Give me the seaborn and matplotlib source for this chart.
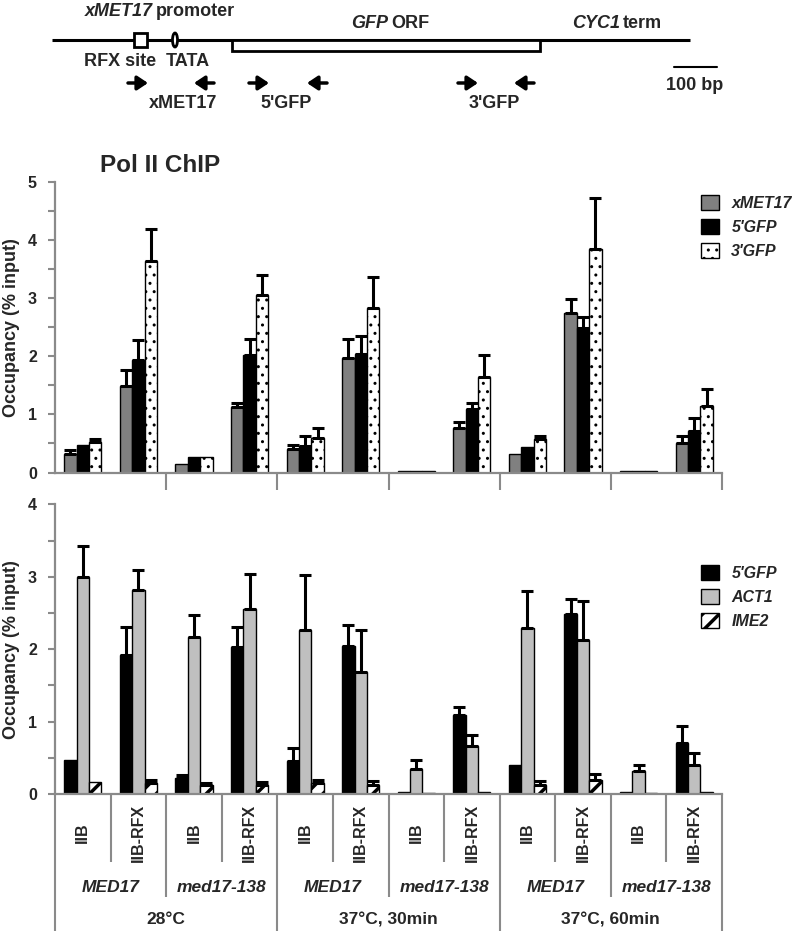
import matplotlib
matplotlib.use('Agg')
import matplotlib.pyplot as plt
from matplotlib.patches import Rectangle, Ellipse
import numpy as np
import pandas as pd
import seaborn as sns

conditions = ['28°C', '37°C, 30min', '37°C, 60min']
strains = ['MED17', 'med17-138']
constructs = ['IIB', 'IIB-RFX']

# Pol II ChIP (% input), samples ordered condition > strain > construct
pol2_targets = ['xMET17', "5'GFP", "3'GFP"]
pol2_xmet17 = [0.32, 1.48, 0.15, 1.13, 0.40, 1.97, 0.02, 0.76, 0.31, 2.75, 0.02, 0.51]
pol2_xmet17_err = [0.06, 0.29, 0, 0.07, 0.08, 0.33, 0, 0.10, 0, 0.23, 0, 0.12]
pol2_5gfp = [0.47, 1.93, 0.27, 2.02, 0.46, 2.03, 0.02, 1.09, 0.43, 2.48, 0.02, 0.71]
pol2_5gfp_err = [0, 0.35, 0, 0.27, 0.17, 0.31, 0, 0.11, 0, 0.19, 0, 0.23]
pol2_3gfp = [0.52, 3.63, 0.26, 3.05, 0.60, 2.83, 0.02, 1.65, 0.57, 3.84, 0.02, 1.14]
pol2_3gfp_err = [0.05, 0.56, 0, 0.34, 0.17, 0.54, 0, 0.37, 0.05, 0.88, 0, 0.29]

# lower panel
low_targets = ["5'GFP", 'ACT1', 'IME2']
low_5gfp = [0.47, 1.92, 0.22, 2.03, 0.46, 2.04, 0.03, 1.09, 0.40, 2.49, 0.03, 0.71]
low_5gfp_err = [0, 0.38, 0.04, 0.28, 0.17, 0.30, 0, 0.11, 0, 0.20, 0, 0.23]
low_act1 = [3.00, 2.81, 2.17, 2.56, 2.27, 1.69, 0.35, 0.66, 2.29, 2.12, 0.32, 0.40]
low_act1_err = [0.42, 0.28, 0.30, 0.48, 0.76, 0.58, 0.12, 0.16, 0.51, 0.55, 0.08, 0.17]
low_ime2 = [0.17, 0.15, 0.12, 0.13, 0.15, 0.13, 0.02, 0.03, 0.13, 0.19, 0.02, 0.03]
low_ime2_err = [0, 0.04, 0.03, 0.04, 0.04, 0.05, 0, 0, 0.05, 0.08, 0, 0]

samples = [f'{c}|{s}|{k}' for c in conditions for s in strains for k in constructs]

sns.set_style('ticks')
plt.rcParams['font.family'] = ['Liberation Sans', 'DejaVu Sans']
plt.rcParams['font.weight'] = 'bold'
GREY = '#8a8a8a'

W, H = 794, 931
fig = plt.figure(figsize=(W / 100, H / 100), dpi=100)


def px_axes(x0, y0, x1, y1):
    # axes rectangle from pixel box (top-left origin)
    return fig.add_axes([x0 / W, 1 - y1 / H, (x1 - x0) / W, (y1 - y0) / H])


def add_errs(ax, errs):
    for cont, err in zip(ax.containers, errs):
        err = np.array(err)
        xs = np.array([p.get_x() + p.get_width() / 2 for p in cont])
        ys = np.array([p.get_height() for p in cont])
        m = err > 0
        ax.errorbar(xs[m], ys[m], yerr=[np.zeros(m.sum()), err[m]], fmt='none',
                    ecolor='black', elinewidth=2.2, capsize=4, capthick=2.2, zorder=4)


def style_axes(ax, ymax):
    sns.despine(ax=ax)
    for s in ['left', 'bottom']:
        ax.spines[s].set_color(GREY)
        ax.spines[s].set_linewidth(1.6)
    ax.set_ylim(0, ymax)
    ax.set_xlim(-0.5, 11.5)
    ax.set_yticks(np.arange(0, ymax + 0.1, 1))
    ax.set_yticks(np.arange(0.5, ymax, 1), minor=True)
    ax.tick_params(axis='y', which='both', direction='out', length=5, width=1.5,
                   color=GREY, labelsize=11.5, pad=8)
    for t in ax.get_yticklabels():
        t.set_fontweight('bold')
    ax.set_xlabel('')
    ax.set_ylabel('Occupancy (% input)', fontsize=13, fontweight='bold')
    # label is anchored at its right edge (text bottom after rotation)
    ax.yaxis.set_label_coords(-0.052, 0.5)


leg_kw = dict(loc='upper left', bbox_transform=fig.transFigure, frameon=False,
              prop=dict(weight='bold', style='italic', size=11.5),
              handlelength=1.1, handleheight=1.05, handletextpad=0.8,
              labelspacing=0.5, borderpad=0, borderaxespad=0)

# ---------- top panel ----------
top_df = pd.DataFrame({'sample': samples * 3,
                       'target': np.repeat(pol2_targets, 12),
                       'value': pol2_xmet17 + pol2_5gfp + pol2_3gfp})
ax1 = px_axes(55, 181.7, 722, 472.5)
plt.rcParams['hatch.linewidth'] = 1.0
sns.barplot(data=top_df, x='sample', y='value', hue='target', order=samples,
            hue_order=pol2_targets, palette=['#808080', '#000000', '#ffffff'],
            saturation=1, width=0.67, errorbar=None, edgecolor='black',
            linewidth=1, legend=False, ax=ax1)
for p in ax1.containers[2]:
    p.set_hatch('..')
add_errs(ax1, [pol2_xmet17_err, pol2_5gfp_err, pol2_3gfp_err])
style_axes(ax1, 5)
ax1.set_xticks([1.5, 3.5, 5.5, 7.5, 9.5, 11.5], [''] * 6)
ax1.tick_params(axis='x', direction='out', length=12, width=1.5, color=GREY)
ax1.text(45 / 667, 1.015, 'Pol II ChIP', transform=ax1.transAxes,
         fontsize=17.5, fontweight='bold', ha='left', va='bottom')
ax1.legend(handles=list(ax1.containers), labels=pol2_targets,
           bbox_to_anchor=(701 / W, 1 - 195 / H), **leg_kw)

# ---------- lower panel ----------
low_df = pd.DataFrame({'sample': samples * 3,
                       'target': np.repeat(low_targets, 12),
                       'value': low_5gfp + low_act1 + low_ime2})
ax2 = px_axes(55, 504.3, 722, 794)
plt.rcParams['hatch.linewidth'] = 2.5
sns.barplot(data=low_df, x='sample', y='value', hue='target', order=samples,
            hue_order=low_targets, palette=['#000000', '#bfbfbf', '#ffffff'],
            saturation=1, width=0.67, errorbar=None, edgecolor='black',
            linewidth=1, legend=False, ax=ax2)
for p in ax2.containers[2]:
    p.set_hatch('//')
    try:
        p.set_hatch_linewidth(2.5)
    except AttributeError:
        pass
for p in ax1.containers[2]:
    try:
        p.set_hatch_linewidth(1.0)
    except AttributeError:
        pass
add_errs(ax2, [low_5gfp_err, low_act1_err, low_ime2_err])
style_axes(ax2, 4)
ax2.set_xticks(range(12), constructs * 6, rotation=90)
ax2.tick_params(axis='x', length=0, pad=28)
for t in ax2.get_xticklabels():
    t.set_va('center')
    t.set_fontsize(11.5)
    t.set_fontweight('bold')
ax2.legend(handles=list(ax2.containers), labels=low_targets,
           bbox_to_anchor=(701 / W, 1 - 565 / H), **leg_kw)

# hierarchical category axis below the lower panel
axh = 794 - 504.3
tr = ax2.get_xaxis_transform()
for xb in np.arange(-0.5, 12, 1):
    if xb in (-0.5, 3.5, 7.5, 11.5):
        depth = 931 - 794
    elif xb in (1.5, 5.5, 9.5):
        depth = 897 - 794
    else:
        depth = 862 - 794
    ax2.plot([xb, xb], [0, -depth / axh], transform=tr, color=GREY, lw=1.5,
             clip_on=False, solid_capstyle='butt')
for i, s in enumerate(strains * 3):
    ax2.text(2 * i + 0.5, -(888 - 794) / axh, s, transform=tr, ha='center',
             va='center', fontsize=12.5, fontweight='bold', style='italic')
for i, c in enumerate(conditions):
    ax2.text(4 * i + 1.5, -(920 - 794) / axh, c, transform=tr, ha='center',
             va='center', fontsize=12.5, fontweight='bold')

# ---------- construct schematic ----------
ax0 = fig.add_axes([0, 1 - 112 / H, 1, 112 / H])
ax0.set_xlim(0, W)
ax0.set_ylim(112, 0)
ax0.axis('off')
ax0.plot([52, 690], [40, 40], color='black', lw=2.2, solid_capstyle='butt')
ax0.add_patch(Rectangle((231.5, 40), 308.5, 11, facecolor='white',
                        edgecolor='black', lw=2, zorder=3))
ax0.add_patch(Rectangle((134, 33), 13, 14, facecolor='white',
                        edgecolor='black', lw=2, zorder=3))
ax0.add_patch(Ellipse((175, 40), 5, 14, facecolor='white',
                      edgecolor='black', lw=2, zorder=3))
fs = 13
ax0.text(153, 12, 'xMET17', ha='right', va='center', fontsize=fs, style='italic')
ax0.text(156, 12, 'promoter', ha='left', va='center', fontsize=fs)
ax0.text(388, 24, 'GFP', ha='right', va='center', fontsize=fs, style='italic')
ax0.text(391, 24, 'ORF', ha='left', va='center', fontsize=fs)
ax0.text(620, 24, 'CYC1', ha='right', va='center', fontsize=fs, style='italic')
ax0.text(623, 24, 'term', ha='left', va='center', fontsize=fs)
ax0.text(84, 62, 'RFX site', ha='left', va='center', fontsize=fs)
ax0.text(166, 62, 'TATA', ha='left', va='center', fontsize=fs)
ax0.text(183, 104, 'xMET17', ha='center', va='center', fontsize=fs)
ax0.text(286, 104, "5'GFP", ha='center', va='center', fontsize=fs)
ax0.text(494, 104, "3'GFP", ha='center', va='center', fontsize=fs)
ax0.plot([674, 717], [67, 67], color='black', lw=1.5)
ax0.text(695, 86, '100 bp', ha='center', va='center', fontsize=fs)
arrows = [(128, 148), (214, 194), (249, 269), (327, 307), (458, 478), (534, 514)]
for x0, x1 in arrows:
    ax0.annotate('', xy=(x1, 83), xytext=(x0, 83),
                 arrowprops=dict(arrowstyle='-|>,head_length=0.45,head_width=0.3',
                                 lw=2.5, color='black', shrinkA=0, shrinkB=0,
                                 mutation_scale=14))

fig.savefig('out.png', dpi=100)
